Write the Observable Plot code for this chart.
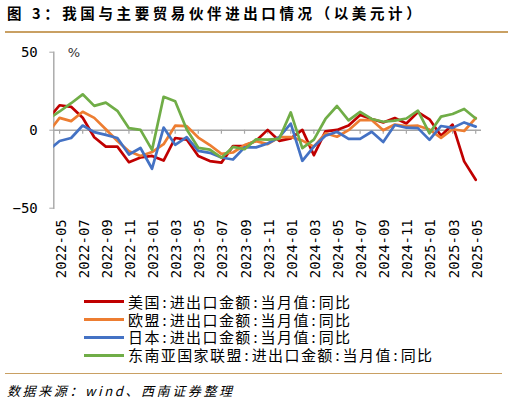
<!DOCTYPE html>
<html><head><meta charset="utf-8">
<script src="https://cdn.jsdelivr.net/npm/d3@7"></script>
<script src="https://cdn.jsdelivr.net/npm/@observablehq/plot@0.6"></script>
<style>
body{margin:0;background:#fff;width:508px;height:405px;position:relative;overflow:hidden;font-family:"Noto Sans CJK SC",sans-serif;color:#000;}
#title{position:absolute;left:7px;top:3px;font-size:14.5px;font-weight:700;letter-spacing:3.6px;white-space:nowrap;line-height:20px;}
.hr{position:absolute;height:1.6px;background:#C9A063;}
#chart{position:absolute;left:0;top:0;}
#legend{position:absolute;left:84px;top:292.8px;}
.row{height:17.8px;display:flex;align-items:center;font-family:"Noto Sans Mono CJK SC","Noto Sans CJK SC",sans-serif;font-size:15px;letter-spacing:1.4px;white-space:nowrap;line-height:17.8px;}
.sw{width:40px;height:3px;margin-right:4px;flex:none;}
#source{position:absolute;left:7px;top:382px;font-style:italic;font-size:13px;letter-spacing:2.6px;white-space:nowrap;line-height:18px;}
</style></head>
<body>
<div id="title">图 3：我国与主要贸易伙伴进出口情况（以美元计）</div>
<div class="hr" style="left:5px;top:31px;width:503px;"></div>
<div id="chart"></div>
<div id="legend"></div>
<div class="hr" style="left:5px;top:372.5px;width:497px;"></div>
<div id="source">数据来源：wind、西南证券整理</div>
<script>
// months: first entry (2022-04) only feeds the segment entering the plot at the left edge
const months = ["2022-04","2022-05","2022-06","2022-07","2022-08","2022-09","2022-10","2022-11","2022-12",
"2023-01","2023-02","2023-03","2023-04","2023-05","2023-06","2023-07","2023-08","2023-09","2023-10","2023-11","2023-12",
"2024-01","2024-02","2024-03","2024-04","2024-05","2024-06","2024-07","2024-08","2024-09","2024-10","2024-11","2024-12",
"2025-01","2025-02","2025-03","2025-04","2025-05"];
const tickLabels = ["2022-05","2022-07","2022-09","2022-11","2023-01","2023-03","2023-05","2023-07","2023-09","2023-11",
"2024-01","2024-03","2024-05","2024-07","2024-09","2024-11","2025-01","2025-03","2025-05"];
const seriesNames = ["美国:进出口金额:当月值:同比","欧盟:进出口金额:当月值:同比","日本:进出口金额:当月值:同比","东南亚国家联盟:进出口金额:当月值:同比"];
const seriesColors = ["#C00000","#ED7D31","#4472C4","#70AD47"];
const usa = [7,16,15,8,-4.5,-10.5,-10.5,-20.5,-17.5,-16.5,-19.5,-5,-6,-16.5,-19.8,-20.8,-10.2,-10,-6.8,0.2,-6.8,-5.2,0.2,-16,-0.8,0.2,3,9.8,7.2,5,7.8,4.3,11.6,7,-3.5,3.6,-20,-31.8];
const eu = [-1.7,7.9,5.8,11.8,7.9,0.6,-6.9,-13.5,-16.5,-14,-9,2.9,2.6,-4.7,-9.5,-15.2,-14.3,-9.5,-7,-8.9,-4.5,-4.4,-6.7,-10.5,-2,-4.2,0,6.5,6.5,0,3.6,2.7,2.9,0.4,-4.9,0.6,-0.5,7.8];
const japan = [-13,-6.9,-5,3,-1.2,-3,-5,-15.6,-11.4,-24.7,1.7,-9.4,-4.4,-13.3,-14.5,-17.5,-18.8,-11,-11,-8.5,-4.5,4.2,-19.6,-10.5,-3.5,-1,-5.5,-5.5,-1,-7.6,3.3,1.6,1.3,-6.2,2.7,1.5,5,2.3];
const asean = [7,12,17.3,23,15.6,17.7,12.4,1.3,0.2,-12.6,21.4,18.6,0.5,-11.3,-12.5,-17.6,-10.7,-12.2,-5.8,-6,-5.5,11.4,-11.5,-6,7.2,15.5,6.3,11.8,7.2,5.4,6.1,7.5,12.5,-2,8.7,10.4,13.6,7.5];
const yTicks = [-50,0,50];

const allSeries = [usa, eu, japan, asean];
const data = [];
allSeries.forEach((vals, k) => vals.forEach((v, i) => data.push({name: seriesNames[k], m: months[i], v})));
const pos = m => months.indexOf(m) - 1; // category index, 2022-05 = 0
const tickPos = tickLabels.map(pos);
const lastPos = months.length - 2;

const chart = Plot.plot({
  width: 508, height: 290,
  marginLeft: 53.3, marginRight: 27, marginTop: 51.7, marginBottom: 82.3,
  style: {fontFamily: "DejaVu Sans Mono", fontSize: "14px", color: "#000", background: "transparent", overflow: "visible"},
  x: {type: "linear", domain: [-0.5, lastPos + 0.5]},
  y: {domain: [-50, 50]},
  color: {domain: seriesNames, range: seriesColors},
  marks: [
    Plot.ruleY([0], {stroke: "#A6A6A6", strokeWidth: 1.4}),
    Plot.ruleX(tickPos, {x: d => d, y1: 0, y2: -2.6, stroke: "#A6A6A6", strokeWidth: 1.2}),
    Plot.frame({anchor: "left", stroke: "#A6A6A6", strokeWidth: 1.4}),
    Plot.axisY({ticks: yTicks, tickSize: 4, tickPadding: 12, stroke: "#A6A6A6", fill: "#000", label: null}),
    Plot.axisX({ticks: tickPos, tickFormat: i => months[i + 1], tickSize: 0, tickPadding: 11, tickRotate: -90, dx: 1.5, fill: "#000", label: null}),
    Plot.line(data, {x: d => pos(d.m), y: "v", z: "name", stroke: "name", strokeWidth: 2.7, clip: true}),
    Plot.text(["%"], {frameAnchor: "top-left", dx: 14, dy: -4, fontFamily: "DejaVu Sans", fontSize: 13, fill: "#333"})
  ]
});
document.getElementById("chart").appendChild(chart);

const leg = document.getElementById("legend");
seriesNames.forEach((n, k) => {
  const row = document.createElement("div");
  row.className = "row";
  row.innerHTML = `<span class="sw" style="background:${seriesColors[k]}"></span><span>${n}</span>`;
  leg.appendChild(row);
});
</script>
</body></html>
